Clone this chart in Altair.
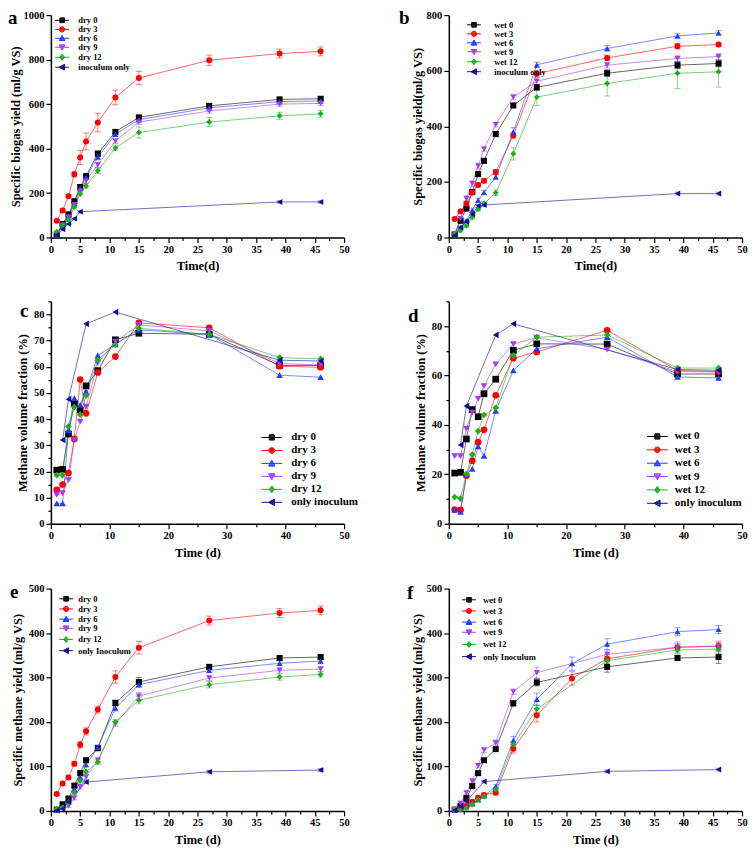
import math
import altair as alt
import pandas as pd

FONT = "Liberation Serif"

DAYS = [1, 2, 3, 4, 5, 6, 8, 11, 15, 27, 39, 46]
DAYS_F = [1, 2, 3, 4, 5, 6, 8, 11, 15, 21, 27, 39, 46]

COLORS = ["#000000", "#ff0000", "#1f3dff", "#a43cf0", "#1fae1f", "#10108f"]
SHAPES = ["square", "circle", "triangle-up", "triangle-down", "diamond", "triangle-left"]

# ---------------- panel a : dry, specific biogas yield ----------------
A_NAMES = ["dry 0", "dry 3", "dry 6", "dry 9", "dry 12", "inoculum only"]
A_X = [DAYS, DAYS, DAYS, DAYS, DAYS, [1, 2, 3, 4, 5, 39, 46]]
A_Y = [
    [10, 61, 104, 163, 227, 276, 377, 475, 540, 592, 621, 624],
    [75, 122, 186, 284, 360, 432, 517, 630, 717, 797, 827, 837],
    [11, 56, 98, 153, 221, 270, 362, 464, 530, 583, 611, 614],
    [14, 56, 92, 148, 209, 255, 327, 434, 519, 569, 600, 603],
    [26, 56, 79, 137, 197, 232, 300, 403, 472, 519, 547, 556],
    [11, 37, 61, 84, 116, 160, 160],
]
A_E = [
    [3, 5, 6, 8, 10, 10, 12, 10, 10, 10, 10, 10],
    [6, 8, 8, 12, 32, 38, 42, 33, 30, 23, 20, 20],
    [3, 5, 6, 8, 10, 10, 12, 10, 10, 10, 10, 10],
    [3, 5, 6, 8, 10, 10, 12, 10, 10, 10, 10, 10],
    [3, 5, 6, 8, 10, 10, 12, 12, 25, 20, 16, 15],
    [2, 3, 3, 4, 5, 5, 5],
]

# ---------------- panel b : wet, specific biogas yield ----------------
B_NAMES = ["wet 0", "wet 3", "wet 6", "wet 9", "wet 12", "inoculum only"]
B_X = [DAYS, DAYS, DAYS, DAYS, DAYS, [1, 2, 3, 4, 5, 6, 39, 46]]
B_Y = [
    [12, 60, 104, 164, 228, 276, 372, 475, 540, 591, 620, 626],
    [67, 94, 122, 162, 189, 204, 236, 367, 589, 646, 688, 694],
    [14, 36, 60, 98, 134, 162, 218, 380, 621, 680, 725, 736],
    [14, 68, 140, 194, 257, 318, 406, 505, 562, 620, 644, 651],
    [12, 25, 42, 73, 102, 122, 161, 301, 505, 554, 591, 596],
    [8, 36, 57, 84, 114, 117, 158, 158],
]
B_E = [
    [3, 6, 6, 8, 8, 8, 8, 8, 10, 12, 12, 12],
    [3, 8, 8, 8, 8, 8, 8, 10, 12, 10, 10, 8],
    [3, 6, 6, 8, 8, 8, 8, 15, 10, 10, 8, 8],
    [3, 6, 10, 10, 10, 8, 8, 8, 12, 10, 10, 10],
    [3, 5, 5, 6, 6, 8, 10, 22, 30, 45, 55, 55],
    [2, 3, 3, 4, 5, 5, 5, 5],
]

# ---------------- panel c : dry, methane volume fraction ----------------
C_NAMES = ["dry 0", "dry 3", "dry 6", "dry 9", "dry 12", "only inoculum"]
C_X = [DAYS, DAYS, DAYS, DAYS, DAYS, [2, 3, 6, 11, 39, 46]]
C_Y = [
    [20.5, 20.8, 34.3, 46, 43.5, 52.7, 58.5, 70.3, 72.8, 72.4, 60.5, 60.5],
    [13, 15, 19.4, 32.4, 55.1, 42.2, 57.8, 63.9, 76.8, 74.9, 60.2, 59.8],
    [7.8, 7.8, 35.8, 48, 45.4, 50.5, 64.3, 68.6, 74.1, 72.4, 56.8, 56],
    [11, 11.7, 16.7, 32, 39, 44.8, 61.4, 69.6, 76, 73.7, 61.2, 60.7],
    [18.6, 18.6, 37.2, 44.6, 41.7, 49, 62.6, 68.4, 74.7, 72.4, 63.5, 63],
    [32, 47.6, 76.4, 80.9, 62.5, 62.2],
]

# ---------------- panel d : wet, methane volume fraction ----------------
D_NAMES = ["wet 0", "wet 3", "wet 6", "wet 9", "wet 12", "only inoculum"]
D_X = [DAYS, DAYS, DAYS, DAYS, DAYS, [2, 3, 8, 11, 39, 46]]
D_Y = [
    [20.5, 20.8, 34.3, 46.2, 43.3, 52.6, 58.5, 70.2, 72.8, 72.7, 60.6, 60.6],
    [5.7, 5.6, 19.5, 25.5, 33, 38, 52, 67, 69.5, 78.3, 62, 61.6],
    [5.7, 4.8, 20, 22.2, 31.3, 27.5, 45.7, 62.1, 70.8, 75.5, 59.4, 59],
    [27.4, 27.4, 38.5, 45, 50.5, 55.7, 64.5, 72.7, 75.3, 70.5, 61.6, 61.4],
    [10.8, 10.2, 20.2, 28, 37.5, 44, 46.9, 68.1, 75.5, 76.4, 63, 63],
    [31.9, 47.6, 76.4, 80.9, 62.4, 62.1],
]

# ---------------- panel e : dry, specific methane yield ----------------
E_NAMES = ["dry 0", "dry 3", "dry 6", "dry 9", "dry 12", "only Inoculum"]
E_X = [DAYS, DAYS, DAYS, DAYS, DAYS, [1, 2, 3, 6, 27, 46]]
E_Y = [
    [3, 15, 28, 57, 85, 114, 141, 243, 290, 324, 344, 346],
    [38, 62, 75, 106, 149, 179, 228, 301, 367, 428, 445, 451],
    [1.5, 10, 22, 48, 76, 104, 143, 231, 284, 316, 332, 337],
    [1.5, 5, 11, 29, 54, 76, 114, 196, 258, 299, 316, 319],
    [5, 8, 18, 42, 68, 88, 110, 200, 249, 284, 301, 307],
    [1, 5, 20, 65, 88, 92],
]
E_E = [
    [1, 2, 3, 4, 5, 5, 5, 6, 10, 5, 5, 5],
    [3, 4, 4, 5, 7, 8, 8, 14, 14, 10, 10, 10],
    [1, 2, 3, 4, 5, 5, 5, 6, 6, 5, 5, 5],
    [1, 2, 3, 4, 5, 5, 6, 6, 8, 6, 6, 6],
    [1, 2, 3, 4, 5, 5, 5, 6, 8, 7, 7, 6],
    [1, 1, 2, 3, 3, 3],
]

# ---------------- panel f : wet, specific methane yield ----------------
F_NAMES = ["wet 0", "wet 3", "wet 6", "wet 9", "wet 12", "only Inoculum"]
F_X = [DAYS, DAYS_F, DAYS_F, DAYS, DAYS, [1, 2, 3, 6, 27, 46]]
F_Y = [
    [3, 11, 29, 56, 85, 114, 139, 242, 289, 324, 344, 346],
    [3, 4, 11, 21, 30, 36, 41, 140, 215, 298, 342, 368, 371],
    [2, 7, 9, 16, 25, 34, 55, 159, 251, 331, 375, 403, 408],
    [3, 17, 41, 67, 102, 137, 153, 268, 311, 352, 368, 370],
    [2, 3, 6, 15, 25, 33, 48, 149, 229, 338, 362, 364],
    [1.5, 10, 22, 66, 89, 93],
]
F_E = [
    [1, 2, 3, 4, 4, 4, 4, 6, 8, 12, 6, 14],
    [1, 2, 3, 3, 4, 4, 5, 10, 15, 15, 10, 8, 8],
    [1, 2, 2, 3, 3, 4, 5, 8, 14, 15, 12, 9, 9],
    [1, 3, 4, 5, 5, 6, 6, 6, 12, 8, 12, 12],
    [1, 2, 2, 3, 3, 4, 5, 6, 10, 10, 8, 10],
    [1, 2, 2, 3, 3, 3],
]

W, H = 294, 223

# ---- legend glyphs: a horizontal line through a stroke-filled marker (unit = half marker) ----
STEP = 0.28


def _scan_h(hw_fn, y0, y1):
    out, yy = [], y0
    while yy <= y1 + 1e-9:
        hw = hw_fn(yy)
        if hw > 0.02:
            out.append(f"M{-hw:.3f},{yy:.3f}H{hw:.3f}")
        yy += STEP
    return "".join(out)


def _scan_v(hh_fn, x0, x1):
    out, xx = [], x0
    while xx <= x1 + 1e-9:
        hh = hh_fn(xx)
        if hh > 0.02:
            out.append(f"M{xx:.3f},{-hh:.3f}V{hh:.3f}")
        xx += STEP
    return "".join(out)


def _poly(pts):
    return "M" + "L".join(f"{px:.3f},{py:.3f}" for px, py in pts) + "Z"


def legend_paths(half):
    line = f"M-{half},0H{half}"
    r = 0.85
    circ = _poly([(r * math.cos(2 * math.pi * k / 16), r * math.sin(2 * math.pi * k / 16))
                  for k in range(16)])
    return [
        line + _poly([(-0.75, -0.75), (0.75, -0.75), (0.75, 0.75), (-0.75, 0.75)])
        + _scan_h(lambda v: 0.75, -0.75, 0.75),
        line + circ + _scan_h(lambda v: math.sqrt(max(r * r - v * v, 0)), -r, r),
        line + _poly([(0, -0.95), (0.95, 0.75), (-0.95, 0.75)])
        + _scan_h(lambda v: 0.95 * (v + 0.95) / 1.7, -0.95, 0.75),
        line + _poly([(0, 0.95), (0.95, -0.75), (-0.95, -0.75)])
        + _scan_h(lambda v: 0.95 * (0.95 - v) / 1.7, -0.75, 0.95),
        line + _poly([(0, -1.0), (0.8, 0), (0, 1.0), (-0.8, 0)])
        + _scan_h(lambda v: 0.8 * (1 - abs(v)), -1.0, 1.0),
        line + _poly([(-0.95, 0), (0.75, -0.95), (0.75, 0.95)])
        + _scan_v(lambda u: 0.95 * (u + 0.95) / 1.7, -0.95, 0.75),
    ]


def tick_values(maxv, step):
    n = int(round(maxv / step))
    return [round(i * step, 3) for i in range(n + 1)]


def make_axis(title, maxv, major, minor, title_pad):
    return alt.Axis(
        title=title,
        values=tick_values(maxv, minor),
        format="d",
        labelExpr=f"datum.value % {major} === 0 ? datum.label : ''",
        tickSize={"condition": {"test": f"datum.value % {major} === 0", "value": 5}, "value": 3},
        titlePadding=title_pad,
        labelOverlap=False,
        labelFlush=False,
        grid=False,
    )


def panel(letter, letter_pos, names, xs, ys, errs, xtitle, ytitle, ymax, ymajor, yminor,
          xmajor, xminor, ytitle_pad, leg, msize):
    rows = []
    for i, (n, xv, yv) in enumerate(zip(names, xs, ys)):
        ev = errs[i] if errs is not None else [0] * len(xv)
        for x, y, e in zip(xv, yv, ev):
            rows.append({"series": n, "x": x, "y": y, "lo": y - e, "hi": y + e, "err": e})
    df = pd.DataFrame(rows)

    x = alt.X("x:Q", scale=alt.Scale(domain=[0, 50], nice=False),
              axis=make_axis(xtitle, 50, xmajor, xminor, 5))
    y = alt.Y("y:Q", scale=alt.Scale(domain=[0, ymax], nice=False),
              axis=make_axis(ytitle, ymax, ymajor, yminor, ytitle_pad))

    def cscale():
        return alt.Scale(domain=names, range=COLORS)

    base = alt.Chart(df)
    lines = base.mark_line(strokeWidth=1, opacity=0.6).encode(
        x=x, y=y, color=alt.Color("series:N", scale=cscale(), legend=None))
    layers = [lines]
    if errs is not None:
        eb = base.transform_filter("datum.err > 1.5")
        rule = eb.mark_rule(strokeWidth=1, opacity=0.5).encode(
            x=x, y=alt.Y("lo:Q"), y2="hi:Q",
            color=alt.Color("series:N", scale=cscale(), legend=None))
        cap_lo = eb.mark_tick(orient="horizontal", size=6, thickness=1, opacity=0.5).encode(
            x=x, y=alt.Y("lo:Q"), color=alt.Color("series:N", scale=cscale(), legend=None))
        cap_hi = eb.mark_tick(orient="horizontal", size=6, thickness=1, opacity=0.5).encode(
            x=x, y=alt.Y("hi:Q"), color=alt.Color("series:N", scale=cscale(), legend=None))
        layers += [rule, cap_lo, cap_hi]
    points = base.mark_point(filled=True, size=msize, opacity=1).encode(
        x=x, y=y,
        color=alt.Color("series:N", scale=cscale(), legend=None),
        shape=alt.Shape("series:N", scale=alt.Scale(domain=names, range=SHAPES), legend=None))
    layers.append(points)

    lg = alt.Legend(
        orient="none", legendX=leg["x"], legendY=leg["y"], title=None, padding=0,
        labelFont=FONT, labelFontWeight="bold", labelFontSize=leg["fs"], labelColor="black",
        labelOffset=leg["lo"], rowPadding=leg["rp"], symbolSize=msize,
        symbolStrokeWidth=1, symbolOpacity=1,
    )
    legend_layer = base.transform_filter("false").mark_point(
        filled=False, size=msize, strokeWidth=1
    ).encode(
        x=x, y=y,
        color=alt.Color("series:N", scale=cscale(), legend=lg),
        shape=alt.Shape("series:N", scale=alt.Scale(domain=names, range=legend_paths(leg["half"])),
                        legend=lg),
    )
    layers.append(legend_layer)

    letter_layer = alt.Chart(pd.DataFrame({"t": [letter]})).mark_text(
        font=FONT, fontWeight="bold", fontSize=19, align="left", baseline="middle", color="black"
    ).encode(text="t:N", x=alt.value(letter_pos[0]), y=alt.value(letter_pos[1]))
    layers.append(letter_layer)

    return alt.layer(*layers).resolve_scale(
        color="independent", shape="independent"
    ).properties(width=W, height=H)


small = {"fs": 8.5, "half": 2.3}
pa = panel("a", (-43, 3), A_NAMES, A_X, A_Y, A_E, "Time(d)", "Specific biogas yield (ml/g VS)",
           1000, 200, 100, 5, 2.5, 0,
           dict(small, x=7, y=1, lo=12, rp=-1.5), 36)
pb = panel("b", (-50, 3), B_NAMES, B_X, B_Y, B_E, "Time(d)", "Specific biogas yield(ml/g VS)",
           800, 200, 100, 5, 2.5, 2,
           dict(small, x=21, y=5.5, lo=16, rp=-1.3), 36)
pc = panel("c", (-31, 10), C_NAMES, C_X, C_Y, None, "Time (d)", "Methane volume fraction (%)",
           85, 10, 5, 10, 5, 4,
           dict(fs=11, half=3.1, x=216, y=131, lo=14, rp=1), 45)
pd_ = panel("d", (-41, 15), D_NAMES, D_X, D_Y, None, "Time (d)", "Methane volume fraction (%)",
            90, 20, 10, 10, 5, 4,
            dict(fs=11, half=3.1, x=203.6, y=130, lo=12, rp=1.4), 45)
pe = panel("e", (-41, 3), E_NAMES, E_X, E_Y, E_E, "Time (d)", "Specific methane yield (ml/g VS)",
           500, 100, 50, 5, 2.5, 4,
           dict(small, x=11, y=6, lo=8, rp=0.2), 36)
pf = panel("f", (-42, 4), F_NAMES, F_X, F_Y, F_E, "Time (d)", "Specific methane yield (ml/g VS)",
           500, 100, 50, 5, 2.5, 2,
           dict(small, x=16, y=7, lo=10, rp=1.2), 36)

chart = alt.concat(pa, pb, pc, pd_, pe, pf, columns=2,
                   spacing=alt.RowColnumber(row=24, column=41)).properties(
    padding=0, background="white"
).configure_view(stroke=None).configure_axis(
    labelFont=FONT, labelFontWeight="bold", labelFontSize=10.5, labelColor="black", labelPadding=2,
    titleFont=FONT, titleFontWeight="bold", titleFontSize=12.5, titleColor="black",
    domainColor="black", domainWidth=1.5, tickColor="black", tickWidth=1.2,
)

chart.save("out.html", embed_options={"renderer": "svg", "actions": False})
